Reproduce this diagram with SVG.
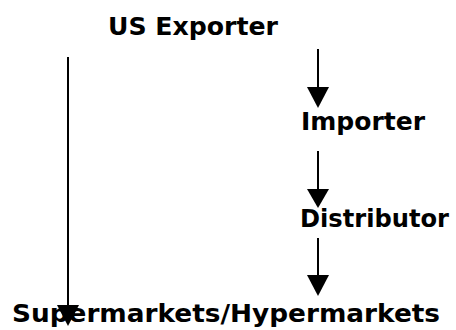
<svg xmlns="http://www.w3.org/2000/svg" width="456" height="330" viewBox="0 0 456 330">
  <style>
    .lbl { font-family: "DejaVu Sans", Verdana, sans-serif; font-weight: bold; font-size: 24px; fill: #000; }
    .wire { stroke: #000; stroke-width: 2; fill: none; }
    .head { fill: #000; }
  </style>
  <rect width="456" height="330" fill="#fff"/>

  <g id="us-exporter">
    <text class="lbl" x="108" y="35" textLength="170" lengthAdjust="spacingAndGlyphs">US Exporter</text>
  </g>
  <g id="importer">
    <text class="lbl" x="301" y="130" textLength="124" lengthAdjust="spacingAndGlyphs">Importer</text>
  </g>
  <g id="distributor">
    <text class="lbl" x="300" y="227" textLength="149" lengthAdjust="spacingAndGlyphs">Distributor</text>
  </g>
  <g id="retail">
    <text class="lbl" x="12" y="322" textLength="428" lengthAdjust="spacingAndGlyphs">Supermarkets/Hypermarkets</text>
  </g>

  <g id="connectors">
    <!-- exporter straight to retail -->
    <line class="wire" x1="68" y1="57" x2="68" y2="306"/>
    <polygon class="head" points="57,305 79,305 68,326"/>
    <!-- exporter to importer -->
    <line class="wire" x1="318" y1="49" x2="318" y2="88"/>
    <polygon class="head" points="307,87 329,87 318,108"/>
    <!-- importer to distributor -->
    <line class="wire" x1="318" y1="151" x2="318" y2="190"/>
    <polygon class="head" points="307,189 329,189 318,208"/>
    <!-- distributor to retail -->
    <line class="wire" x1="318" y1="238" x2="318" y2="276"/>
    <polygon class="head" points="307,275 329,275 318,296"/>
  </g>
</svg>
